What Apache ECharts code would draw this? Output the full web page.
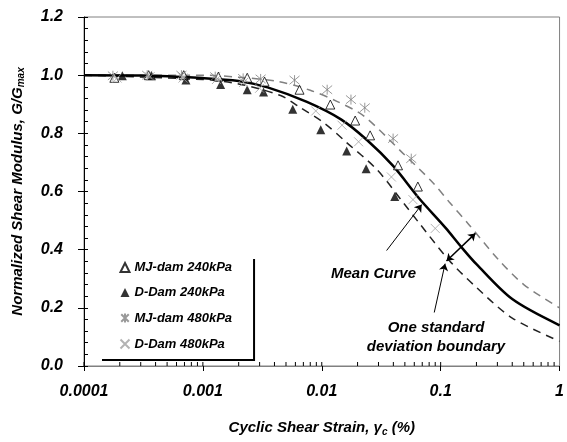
<!DOCTYPE html>
<html>
<head>
<meta charset="utf-8">
<script src="https://cdn.jsdelivr.net/npm/echarts@6/dist/echarts.min.js"></script>
<style>
  html, body { margin: 0; padding: 0; background: #fff; }
  #chart { width: 567px; height: 442px; }
</style>
</head>
<body>
<div id="chart"></div>
<script>
// tick labels
const xTickLabels = ['0.0001', '0.001', '0.01', '0.1', '1']
const xMinorTicks = [
  0.0001, 0.0002, 0.0003, 0.0004, 0.0005, 0.0006, 0.0007, 0.0008, 0.0009,
  0.001, 0.002, 0.003, 0.004, 0.005, 0.006, 0.007, 0.008, 0.009,
  0.01, 0.02, 0.03, 0.04, 0.05, 0.06, 0.07, 0.08, 0.09,
  0.1, 0.2, 0.3, 0.4, 0.5, 0.6, 0.7, 0.8, 0.9
]

// test data [strain %, G/Gmax]
const mj240 = [
  [0.00018, 0.991], [0.00035, 1.0], [0.00069, 1.0], [0.00135, 0.995],
  [0.00236, 0.991], [0.0033, 0.978], [0.0065, 0.95], [0.0118, 0.899],
  [0.0191, 0.844], [0.0255, 0.793], [0.0438, 0.69], [0.0643, 0.617]
]
const d240 = [
  [0.00021, 0.998], [0.00037, 0.998], [0.00072, 0.983], [0.00141, 0.968],
  [0.00236, 0.95], [0.00324, 0.942], [0.0057, 0.883], [0.0098, 0.812],
  [0.0162, 0.739], [0.0236, 0.678], [0.0411, 0.583]
]
const mj480 = [
  [0.000175, 0.998], [0.00034, 1.0], [0.00066, 1.0], [0.00127, 0.995],
  [0.00218, 0.989], [0.00306, 0.987], [0.0059, 0.983], [0.0111, 0.95],
  [0.0176, 0.916], [0.023, 0.888], [0.0398, 0.782], [0.0566, 0.713]
]
const d480 = [
  [0.00019, 0.99], [0.00036, 0.995], [0.00068, 0.99], [0.0013, 0.985],
  [0.0022, 0.975], [0.003, 0.955], [0.0089, 0.877], [0.0148, 0.828],
  [0.0204, 0.771], [0.0385, 0.65], [0.0585, 0.572], [0.09, 0.473]
]

// curves
const meanCurve = [
  [0.0001, 1.0], [0.0003, 0.999], [0.001, 0.99], [0.002, 0.98], [0.0035, 0.958],
  [0.0075, 0.908], [0.0145, 0.848], [0.024, 0.777], [0.04, 0.687], [0.066, 0.576],
  [0.11, 0.475], [0.15, 0.408], [0.2, 0.35], [0.4, 0.23], [1, 0.14]
]
const upperCurve = [
  [0.0001, 1.0], [0.001, 1.0], [0.002, 0.993], [0.0043, 0.978], [0.008, 0.948],
  [0.0134, 0.91], [0.0225, 0.86], [0.048, 0.732], [0.0857, 0.631], [0.118, 0.564],
  [0.173, 0.486], [0.3, 0.37], [0.5, 0.28], [1, 0.2]
]
const lowerCurve = [
  [0.0001, 1.0], [0.001, 0.985], [0.002, 0.97], [0.0045, 0.93], [0.0065, 0.89],
  [0.0105, 0.835], [0.016, 0.77], [0.029, 0.676], [0.048, 0.564], [0.0664, 0.49],
  [0.118, 0.363], [0.2, 0.27], [0.4, 0.165], [1, 0.085]
]

// annotation arrows
const meanArrow = [[0.0351, 0.397], [0.0693, 0.555]]
const sdArrow = [[0.0883, 0.184], [0.109, 0.352]]
const sdSpan = [[0.112, 0.361], [0.196, 0.456]]

const FONT = 'Liberation Sans'
const ASTERISK = 'path://M0,0L10,10M10,0L0,10M5,-1L5,11'
const CROSS = 'path://M0,0L10,10M10,0L0,10'

const chart = echarts.init(document.getElementById('chart'))

const scatter = (name, data, symbol, size, style) => ({
  name,
  type: 'scatter',
  data,
  symbol,
  symbolSize: size,
  itemStyle: style,
  z: 5,
})

const curve = (name, data, color, width, type) => ({
  name,
  type: 'line',
  data,
  showSymbol: false,
  symbol: 'none',
  smooth: 0.3,
  lineStyle: { color, width, type },
  z: 3,
})

const BOLD_ITALIC = {
  fontFamily: FONT,
  fontStyle: 'italic',
  fontWeight: 'bold',
  color: '#000',
}

const option = {
  animation: false,
  grid: {
    left: 84,
    right: 2,
    top: 17,
    bottom: 67,
    show: true,
    borderColor: '#808080',
    borderWidth: 1,
  },
  legend: {
    data: ['MJ-dam 240kPa', 'D-Dam 240kPa', 'MJ-dam 480kPa', 'D-Dam 480kPa'],
    orient: 'vertical',
    left: 100,
    top: 257,
    padding: [4, 21, 8, 18],
    itemWidth: 9,
    itemHeight: 9,
    itemGap: 12,
    backgroundColor: '#fff',
    borderWidth: 0,
    shadowColor: '#000',
    shadowBlur: 0,
    shadowOffsetX: 2,
    shadowOffsetY: 2,
    textStyle: { ...BOLD_ITALIC, fontSize: 13 },
  },
  xAxis: {
    type: 'log',
    logBase: 10,
    min: 0.0001,
    max: 1,
    name: 'Cyclic Shear Strain, γ{sub|c} (%)',
    nameLocation: 'middle',
    nameGap: 53,
    nameTextStyle: {
      ...BOLD_ITALIC,
      fontSize: 15,
      rich: {
        sub: { ...BOLD_ITALIC, fontSize: 10, padding: [8, 0, 0, 0] },
      },
    },
    axisLine: { lineStyle: { color: '#808080', width: 1 } },
    axisTick: { length: 5, lineStyle: { color: '#000' } },
    axisLabel: {
      ...BOLD_ITALIC,
      margin: 18,
      fontSize: 16,
      formatter: (v) => xTickLabels[Math.round(Math.log10(v)) + 4],
    },
    splitLine: { show: false },
  },
  yAxis: [
    {
      type: 'value',
      position: 'left',
      min: 0,
      max: 1.2,
      interval: 0.2,
      name: 'Normalized Shear Modulus, G/G{sub|max}',
      nameLocation: 'middle',
      nameGap: 58,
      nameTextStyle: {
        ...BOLD_ITALIC,
        fontSize: 15,
        rich: {
          sub: { fontFamily: FONT, fontStyle: 'italic', fontSize: 10, color: '#000', padding: [7, 0, 0, 0] },
        },
      },
      axisLine: { show: true, lineStyle: { color: '#000', width: 1 } },
      axisTick: { show: true, length: 6, lineStyle: { color: '#000' } },
      axisLabel: {
        ...BOLD_ITALIC,
        margin: 21,
        fontSize: 16,
        formatter: (v) => v.toFixed(1),
      },
      splitLine: { show: false },
    },
    {
      // minor ticks on the inner side
      type: 'value',
      position: 'left',
      offset: 0,
      min: 0,
      max: 1.2,
      interval: 0.04,
      axisLine: { show: false },
      axisTick: { show: true, inside: true, length: 4, lineStyle: { color: '#000' } },
      axisLabel: { show: false },
      splitLine: { show: false },
    },
  ],
  series: [
    curve('upper', upperCurve, '#808080', 1.5, [8, 6]),
    curve('lower', lowerCurve, '#222', 1.5, [8, 6]),
    curve('mean', meanCurve, '#000', 2.5, 'solid'),
    scatter('MJ-dam 240kPa', mj240, 'triangle', 9, { color: '#fff', borderColor: '#000', borderWidth: 1 }),
    scatter('D-Dam 240kPa', d240, 'triangle', 9, { color: '#000' }),
    scatter('MJ-dam 480kPa', mj480, ASTERISK, 10, { color: 'none', borderColor: '#808080', borderWidth: 1 }),
    scatter('D-Dam 480kPa', d480, CROSS, 9, { color: 'none', borderColor: '#a0a0a0', borderWidth: 1 }),
    {
      type: 'lines',
      coordinateSystem: 'cartesian2d',
      silent: true,
      z: 6,
      symbolSize: 7,
      lineStyle: { color: '#000', width: 1, opacity: 1 },
      data: [
        { coords: meanArrow, symbol: ['none', 'arrow'] },
        { coords: sdArrow, symbol: ['none', 'arrow'] },
        { coords: sdSpan, symbol: ['arrow', 'arrow'], lineStyle: { width: 1.5 } },
      ],
    },
    {
      // inner half of the strain axis ticks
      type: 'custom',
      silent: true,
      clip: false,
      z: 7,
      data: xMinorTicks.map((v) => [v, 0]),
      renderItem: (params, api) => {
        const p = api.coord([api.value(0), 0])
        return {
          type: 'line',
          shape: { x1: p[0], y1: p[1], x2: p[0], y2: p[1] - 4 },
          style: { stroke: '#000', lineWidth: 1 },
        }
      },
    },
  ],
  graphic: [
    {
      type: 'text',
      left: 331,
      top: 266,
      style: { ...BOLD_ITALIC, fill: '#000', text: 'Mean Curve', fontSize: 15 },
    },
    {
      type: 'text',
      x: 436,
      y: 337,
      style: {
        ...BOLD_ITALIC,
        fill: '#000',
        text: 'One standard\ndeviation boundary',
        fontSize: 15,
        lineHeight: 19,
        align: 'center',
        verticalAlign: 'middle',
      },
    },
  ],
}

chart.setOption(option)
</script>
</body>
</html>
